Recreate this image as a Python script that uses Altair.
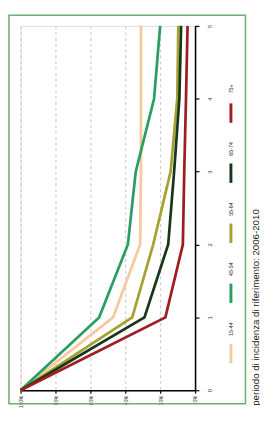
import altair as alt
import pandas as pd

years = [0, 1, 2, 3, 4, 5]
groups = ["15-44", "45-54", "55-64", "65-74", "75+"]
colors = ["#F8C89E", "#2A9D64", "#A4A12E", "#18361C", "#9E1C22"]
v_15_44 = [100, 47, 31.5, 31, 31, 31]
v_45_54 = [100, 55, 38.5, 34, 23.5, 20]
v_55_64 = [100, 36, 24, 14, 10.2, 9.6]
v_65_74 = [100, 29, 15.4, 12, 9, 8]
v_75 = [100, 17, 7, 6.2, 5.2, 4.3]
pct_ticks = [0, 0.2, 0.4, 0.6, 0.8, 1.0]
title_text = "periodo di incidenza di riferimento: 2006-2010"

series = [v_15_44, v_45_54, v_55_64, v_65_74, v_75]
rows = []
for g, vals in zip(groups, series):
    for yr, v in zip(years, vals):
        rows.append({"group": g, "year": yr, "pct": v / 100})
df = pd.DataFrame(rows)

W, H = 180, 376
FONT = "Liberation Sans"

color_scale = alt.Scale(domain=groups, range=colors)

lines = alt.Chart(df).mark_line(strokeWidth=2.8, strokeJoin="miter").encode(
    x=alt.X("pct:Q",
            scale=alt.Scale(domain=[0, 1], reverse=True, nice=False),
            axis=alt.Axis(values=pct_ticks, format=".0%", labelAngle=270,
                          labelAlign="right", labelBaseline="middle",
                          grid=True, gridDash=[3, 3], gridColor="#c4c4c4",
                          gridWidth=1, domainColor="black", domainWidth=1.6,
                          tickColor="black", tickSize=3, tickWidth=1.2,
                          labelPadding=2, labelFontSize=5, labelColor="#333",
                          labelFont=FONT, title=None, orient="bottom")),
    y=alt.Y("year:Q",
            scale=alt.Scale(domain=[0, 5], nice=False),
            axis=alt.Axis(values=years, orient="right", labelAngle=270,
                          labelAlign="center", labelBaseline="top",
                          grid=False, domainColor="black", domainWidth=1.6,
                          tickColor="black", tickSize=4, tickWidth=1.2,
                          labelPadding=8, labelFontSize=6, labelColor="#333",
                          labelFont=FONT, title=None)),
    color=alt.Color("group:N", scale=color_scale, legend=None),
    order=alt.Order("year:Q"),
)

layers = [lines]

# custom rotated legend
for i, (g, c) in enumerate(zip(groups, colors)):
    cy = 338 - i * 62
    d = pd.DataFrame({"g": [g]})
    sw = alt.Chart(d).mark_rule(strokeWidth=3, color=c).encode(
        x=alt.value(217), y=alt.value(cy - 10), y2=alt.value(cy + 10))
    lb = alt.Chart(d).mark_text(angle=270, align="center", baseline="middle",
                                fontSize=5.5, font=FONT, color="#333").encode(
        x=alt.value(217), y=alt.value(cy - 25), text="g:N")
    layers += [sw, lb]

frame = alt.Chart(pd.DataFrame({"a": [0]})).mark_rect(
    fill=None, stroke="#6FB070", strokeWidth=1.6).encode(
    x=alt.value(-12), x2=alt.value(232), y=alt.value(-11), y2=alt.value(390))

title = alt.Chart(pd.DataFrame({"t": [title_text]})).mark_text(
    angle=270, align="left", baseline="middle", fontSize=10, font=FONT,
    color="#222").encode(x=alt.value(243), y=alt.value(392), text="t:N")

chart = alt.layer(frame, *layers, title).properties(
    width=W, height=H,
    autosize=alt.AutoSizeParams(type="none"),
    padding={"left": 13, "top": 12, "right": 67, "bottom": 16},
).configure_view(stroke="#a8a8a8", strokeWidth=1.5).configure(background="white")

chart.save("out.html", embed_options={"renderer": "svg", "actions": False})
